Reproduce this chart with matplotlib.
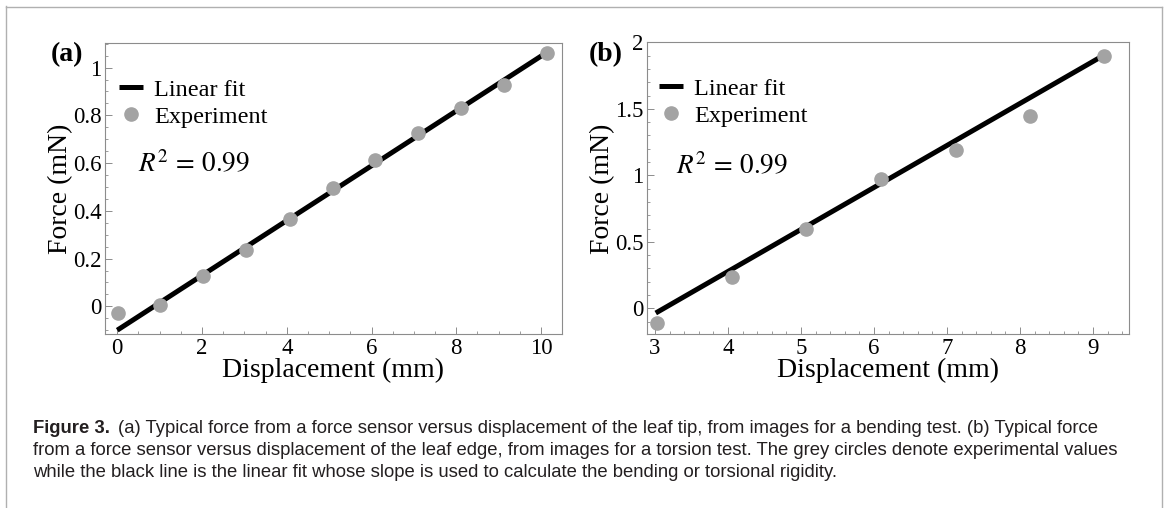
import numpy as np
import matplotlib
matplotlib.use("Agg")
import matplotlib.pyplot as plt
from matplotlib.lines import Line2D
from matplotlib.ticker import MultipleLocator, FuncFormatter

plt.rcParams['font.family'] = ['Liberation Serif', 'DejaVu Serif']
plt.rcParams['mathtext.fontset'] = 'stix'

# (a) bending test
disp_a = [0.01, 1.02, 2.03, 3.05, 4.07, 5.08, 6.09, 7.10, 8.12, 9.13, 10.13]
force_a = [-0.026, 0.007, 0.128, 0.237, 0.365, 0.497, 0.611, 0.727, 0.831, 0.929, 1.060]
fit_a_x = [0.0, 10.13]
fit_a_y = [-0.10, 1.063]

# (b) torsion test
disp_b = [3.03, 4.05, 5.07, 6.10, 7.12, 8.13, 9.15]
force_b = [-0.11, 0.237, 0.600, 0.972, 1.19, 1.447, 1.90]
fit_b_x = [3.01, 9.09]
fit_b_y = [-0.035, 1.885]

r2_text = r'$R^2\,=\,0.99$'

caption_head = "Figure 3."
caption_lines = [
    "(a) Typical force from a force sensor versus displacement of the leaf tip, from images for a bending test. (b) Typical force",
    "from a force sensor versus displacement of the leaf edge, from images for a torsion test. The grey circles denote experimental values",
    "while the black line is the linear fit whose slope is used to calculate the bending or torsional rigidity.",
]

grey_dot = '#a3a3a3'
frame_grey = '#8c8c8c'


def style_axes(ax, xmajor, xminor, ymajor, yminor):
    for sp in ax.spines.values():
        sp.set_color(frame_grey)
        sp.set_linewidth(0.8)
    ax.xaxis.set_major_locator(MultipleLocator(xmajor))
    ax.xaxis.set_minor_locator(MultipleLocator(xminor))
    ax.yaxis.set_major_locator(MultipleLocator(ymajor))
    ax.yaxis.set_minor_locator(MultipleLocator(yminor))
    fmt = FuncFormatter(lambda v, p: '{:g}'.format(round(v, 3)))
    ax.xaxis.set_major_formatter(fmt)
    ax.yaxis.set_major_formatter(fmt)
    ax.tick_params(which='both', direction='in', color=frame_grey, top=False, right=False)
    ax.tick_params(which='major', length=5, width=0.7, labelsize=16.5)
    ax.tick_params(which='minor', length=2.5, width=0.6)
    ax.tick_params(axis='y', pad=2.5)
    ax.tick_params(axis='x', pad=3)
    ax.set_xlabel('Displacement (mm)', fontsize=20, labelpad=-1)
    ax.set_ylabel('Force (mN)', fontsize=20, labelpad=0)


def draw_panel(ax, x, y, fx, fy, legend_x, text_xy):
    ax.plot(fx, fy, color='black', lw=3.6, solid_capstyle='butt', label='Linear fit', zorder=2)
    ax.plot(x, y, 'o', color=grey_dot, ms=9.5, mec=grey_dot, label='Experiment', zorder=3)
    ax.legend(loc='upper left', bbox_to_anchor=(legend_x, 0.878), frameon=False,
              fontsize=17.5, handlelength=1.0, handletextpad=0.45, labelspacing=0.2,
              borderpad=0, borderaxespad=0, numpoints=1)
    ax.text(text_xy[0], text_xy[1], r2_text, transform=ax.transAxes, fontsize=19.5,
            va='center', ha='left')


fig = plt.figure(figsize=(11.65, 5.08), dpi=100)

ax_a = fig.add_axes([0.0901, 0.3425, 0.3921, 0.5723])
draw_panel(ax_a, disp_a, force_a, fit_a_x, fit_a_y, 0.031, (0.072, 0.581))
ax_a.set_xlim(-0.29, 10.49)
ax_a.set_ylim(-0.116, 1.102)
style_axes(ax_a, 2, 0.5, 0.2, 0.05)

ax_b = fig.add_axes([0.5551, 0.3419, 0.4143, 0.5748])
draw_panel(ax_b, disp_b, force_b, fit_b_x, fit_b_y, 0.025, (0.060, 0.574))
ax_b.set_xlim(2.886, 9.497)
ax_b.set_ylim(-0.195, 2.0)
style_axes(ax_b, 1, 0.2, 0.5, 0.1)

# panel letters
fig.text(0.0573, 0.893, '(a)', fontsize=20, fontweight='bold', ha='center', va='center')
fig.text(0.5197, 0.893, '(b)', fontsize=20, fontweight='bold', ha='center', va='center')

# page frame lines
W, H = 1165.0, 508.0
frame_kw = dict(color='#b0b0b0', lw=1.0, transform=fig.transFigure)
fig.add_artist(Line2D([6 / W, 6 / W], [0, 1 - 6 / H], **frame_kw))
fig.add_artist(Line2D([6 / W, 1161.5 / W], [1 - 6.5 / H, 1 - 6.5 / H], **frame_kw))
fig.add_artist(Line2D([1161.5 / W, 1161.5 / W], [0, 1 - 6.5 / H], **frame_kw))

# caption
cap_font = ['Liberation Sans Narrow', 'Liberation Sans', 'DejaVu Sans']
cap_size = 13.3
baselines = [433, 455, 477]
head = fig.text(33 / W, 1 - baselines[0] / H, caption_head, fontsize=cap_size, fontweight='bold',
                family=cap_font, va='baseline', ha='left', color='#231f20')
ax_a.annotate(caption_lines[0], xy=(1, 0), xycoords=head, xytext=(6, 0),
              textcoords='offset points', fontsize=cap_size, family=cap_font,
              va='bottom', ha='left', color='#231f20', annotation_clip=False)
for line, b in zip(caption_lines[1:], baselines[1:]):
    fig.text(33 / W, 1 - b / H, line, fontsize=cap_size, family=cap_font,
             va='baseline', ha='left', color='#231f20')

plt.savefig('out.png', dpi=100)
